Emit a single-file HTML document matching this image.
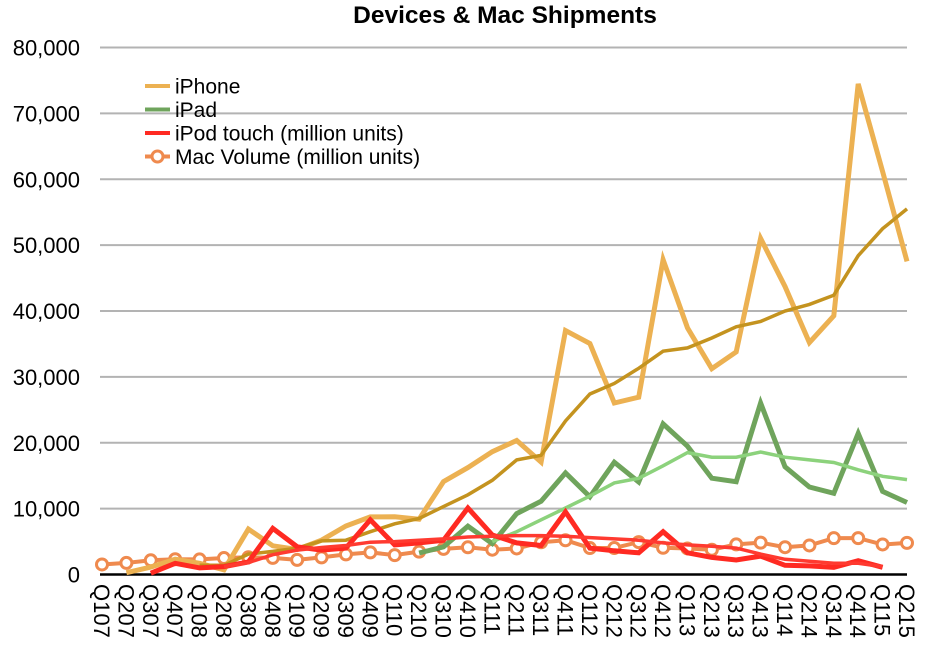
<!DOCTYPE html>
<html><head><meta charset="utf-8"><style>
body{margin:0;background:#fff;font-family:"Liberation Sans",sans-serif}
svg text{font-family:"Liberation Sans",sans-serif}
</style></head><body>
<svg id="c" width="938" height="650"></svg>
<script>
const categories=["Q107","Q207","Q307","Q407","Q108","Q208","Q308","Q408","Q109","Q209","Q309","Q409","Q110","Q210","Q310","Q410","Q111","Q211","Q311","Q411","Q112","Q212","Q312","Q412","Q113","Q213","Q313","Q413","Q114","Q214","Q314","Q414","Q115","Q215"];
const yTicks=[0,10000,20000,30000,40000,50000,60000,70000,80000];
const iphone=[null,270,1119,2315,1703,717,6892,4363,3793,5208,7367,8737,8752,8398,14102,16235,18647,20338,17070,37044,35064,26028,26910,47789,37430,31241,33797,51025,43719,35203,39272,74468,61170,47534];
const iphoneTrend=[null,null,null,null,1400,1400,3100,3500,4000,5100,5200,6500,7700,8500,10300,12100,14300,17400,18100,23300,27400,29000,31300,33900,34400,35900,37600,38400,40000,41000,42400,48400,52500,55500];
const ipad=[null,null,null,null,null,null,null,null,null,null,null,null,null,3270,4190,7331,4690,9250,11120,15430,11800,17040,14040,22860,19480,14620,14080,26040,16350,13280,12320,21420,12620,10930];
const ipadTrend=[null,null,null,null,null,null,null,null,null,null,null,null,null,null,null,null,5000,6500,8300,10100,11900,13900,14600,16500,18500,17800,17800,18600,17800,17400,17000,15900,14900,14400];
const ipod=[null,null,200,1700,1000,1200,1900,7000,4200,3700,4000,8300,4500,4800,5200,10100,6000,4800,4400,9500,4000,3600,3300,6500,3300,2600,2200,2800,1400,1300,1100,2100,1100,null];
const ipodTrend=[null,null,null,null,null,1200,1800,3000,3700,4100,4400,4900,5000,5200,5400,5700,5800,5900,5900,5800,5600,5400,5200,4800,4500,4300,4000,3100,2300,2000,1700,1700,1200,null];
const mac=[1520,1760,2160,2320,2290,2500,2610,2520,2220,2600,3050,3360,2940,3470,3890,4130,3760,3950,4890,5200,4020,4020,4920,4060,3950,3750,4570,4840,4140,4410,5520,5520,4560,4800];

const svg=document.getElementById('c');const NS='http://www.w3.org/2000/svg';
const X0=102,X1=907,Y0=574.5,YT=47.5;
const xs=i=>X0+i*(X1-X0)/(categories.length-1);
const ys=v=>Y0-v/80000*(Y0-YT);
function mk(t,a,p){const e=document.createElementNS(NS,t);for(const k in a)e.setAttribute(k,a[k]);(p||svg).appendChild(e);return e;}
let t=mk('text',{x:505,y:23,'text-anchor':'middle','font-size':24.5,'font-weight':'bold'});t.textContent='Devices & Mac Shipments';


yTicks.forEach(v=>{
 if(v>0){const g=mk('line',{x1:100,x2:907,y1:ys(v),y2:ys(v),stroke:'#b3b3b3','stroke-width':2});
 
 }
 const l=mk('text',{x:80,y:ys(v)+8,'text-anchor':'end','font-size':22});l.textContent=v.toLocaleString('en-US');
 
 
});
const ax=mk('line',{x1:100,x2:907,y1:Y0,y2:Y0,stroke:'#000','stroke-width':2.5});


categories.forEach((c,i)=>{const l=mk('text',{x:0,y:0,'font-size':22,transform:`translate(${xs(i)-8},584) rotate(90)`});l.textContent=c;
 
 });
function line(arr,color,w,name){let d='',pen=false;arr.forEach((v,i)=>{if(v==null){pen=false;return;}d+=(pen?'L':'M')+xs(i).toFixed(1)+','+ys(v).toFixed(1);pen=true;});
 const p=mk('path',{d:d,fill:'none',stroke:color,'stroke-width':w,'stroke-linejoin':'miter','stroke-linecap':'butt'});
 
 return p;}
line(mac,'#ef8a4e',4,'mac-line');
mac.forEach((v,i)=>{const c=mk('circle',{cx:xs(i),cy:ys(v),r:5.5,fill:'#fff',stroke:'#ef8a4e','stroke-width':3});
 
 });
line(ipad,'#6fa45c',5,'ipad-line');
line(ipadTrend,'#8cd27c',3.5,'ipad-trend-line');
line(iphone,'#ecb152',5,'iphone-line');
line(iphoneTrend,'#c4931f',3.5,'iphone-trend-line');
line(ipod,'#ff2a22',5,'ipod-touch-line');
line(ipodTrend,'#ff3a30',3.5,'ipod-trend-line');
const leg=[['iPhone','#ecb152'],['iPad','#6fa45c'],['iPod touch (million units)','#ff2a22'],['Mac Volume (million units)','#ef8a4e']];
leg.forEach((e,i)=>{const y=86+i*23.5;
 const g=mk('g',{});
 mk('line',{x1:145,x2:170,y1:y,y2:y,stroke:e[1],'stroke-width':4},g);
 if(i==3)mk('circle',{cx:157.5,cy:y,r:5.5,fill:'#fff',stroke:e[1],'stroke-width':3},g);
 const l=mk('text',{x:175,y:y+7.5,'font-size':21},g);l.textContent=e[0];});
</script>
</body></html>
